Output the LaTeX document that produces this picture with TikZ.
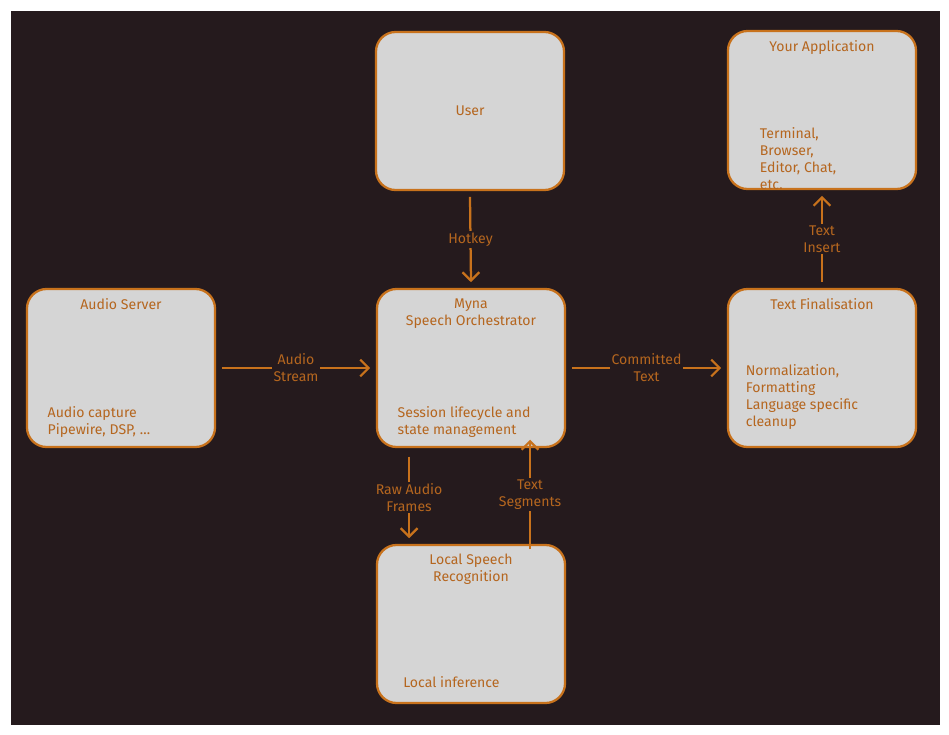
\documentclass[tikz,border=0pt]{standalone}
\usepackage{fontspec}
\setmainfont{Fira Sans}
\usetikzlibrary{arrows.meta}
\definecolor{bgdark}{HTML}{251A1D}
\definecolor{boxfill}{HTML}{D5D5D5}
\definecolor{lineorange}{HTML}{C8721C}
\definecolor{textorange}{HTML}{B5661F}
\tikzset{
  block/.style={draw=lineorange, line width=1.6pt, fill=boxfill, rounded corners=14pt,
    minimum width=4.7cm, minimum height=3.95cm, inner sep=0pt},
  title/.style={text=textorange, font=\normalsize, align=center, anchor=north},
  desc/.style={text=textorange, font=\normalsize, align=left, anchor=south west},
  flow/.style={draw=lineorange, line width=1.6pt, -{Straight Barb[length=6pt,width=12pt]}},
  flowlabel/.style={fill=bgdark, text=textorange, font=\normalsize, align=center, inner sep=1pt}
}
\begin{document}
\begin{tikzpicture}[x=0.025cm, y=-0.025cm]
    % Background
    \fill[white] (0,0) rectangle (949,735);
    \fill[bgdark] (11,11) rectangle (940,725);

    % Blocks
    \node[block] (user) at (470,111) {};
    \node[block] (app) at (822,110) {};
    \node[block] (audio) at (121,368) {};
    \node[block] (myna) at (471,368) {};
    \node[block] (final) at (822,368) {};
    \node[block] (asr) at (471,624) {};

    % Texts
    \node[text=textorange] at (user.center) {User};
    \node[title] at ([yshift=-4pt]app.north) {Your Application};
    \node[desc, anchor=north west] at ([xshift=20pt,yshift=-66pt]app.north west) {Terminal,\\Browser,\\Editor, Chat,\\etc.};
    \node[title] at ([yshift=-4pt]audio.north) {Audio Server};
    \node[desc] at ([xshift=12pt,yshift=4pt]audio.south west) {Audio capture\\Pipewire, DSP, \dots};
    \node[title] at ([yshift=-4pt]myna.north) {Myna\\Speech Orchestrator};
    \node[desc] at ([xshift=12pt,yshift=4pt]myna.south west) {Session lifecycle and\\state management};
    \node[title] at ([yshift=-4pt]final.north) {Text Finalisation};
    \node[desc] at ([xshift=10pt,yshift=10pt]final.south west) {Normalization,\\Formatting\\Language specific\\cleanup};
    \node[title] at ([yshift=-4pt]asr.north) {Local Speech\\Recognition};
    \node[desc] at ([xshift=16pt,yshift=8pt]asr.south west) {Local inference};

    % Connectors
    \draw[flow] ([yshift=-4pt]user.south) -- node[flowlabel] {Hotkey} ([yshift=4pt]myna.north);
    \draw[flow] ([xshift=4pt]audio.east) -- node[flowlabel] {Audio\\Stream} ([xshift=-4pt]myna.east -| myna.west);
    \draw[flow] ([xshift=4pt]myna.east) -- node[flowlabel] {Committed\\Text} ([xshift=-4pt]final.west);
    \draw[flow] ([yshift=4pt]final.north) -- node[flowlabel] {Text\\Insert} ([yshift=-4pt]app.south);
    \draw[flow] ([xshift=-44pt,yshift=-6pt]myna.south) -- node[flowlabel] {Raw Audio\\Frames} ([xshift=-44pt,yshift=4pt]asr.north);
    \draw[flow] ([xshift=42pt,yshift=-4pt]asr.north) -- node[flowlabel] {Text\\Segments} ([xshift=42pt,yshift=6pt]myna.south);
\end{tikzpicture}
\end{document}
